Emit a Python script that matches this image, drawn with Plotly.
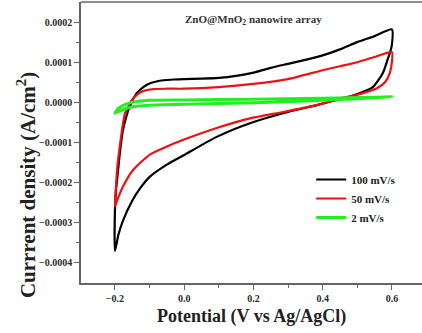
import plotly.graph_objects as go

# 100 mV/s loop (forward branch then reverse branch), current in 1e-4 A/cm^2
x_100 = [-0.2, -0.2, -0.197, -0.191, -0.185, -0.177, -0.167, -0.157, -0.137, -0.118, -0.1, -0.08, -0.06, -0.03, 0.0,
         0.05, 0.1, 0.15, 0.2, 0.25, 0.3, 0.35, 0.4, 0.45, 0.5, 0.55, 0.6,
         0.6, 0.595, 0.59, 0.574, 0.545, 0.508, 0.47, 0.45, 0.383, 0.286, 0.19, 0.094, -0.004, -0.05, -0.099,
         -0.128, -0.15, -0.177, -0.19, -0.2]
y_100 = [-3.7, -2.7, -2.2, -1.7, -1.2, -0.7, -0.35, -0.1, 0.23, 0.38, 0.47, 0.52, 0.55, 0.57, 0.58,
         0.59, 0.61, 0.66, 0.74, 0.86, 0.96, 1.06, 1.17, 1.32, 1.5, 1.65, 1.82,
         1.43, 1.25, 1.13, 0.73, 0.38, 0.23, 0.12, 0.08, -0.07, -0.27, -0.52, -0.86, -1.33, -1.55, -1.85,
         -2.15, -2.45, -2.95, -3.3, -3.7]

# 50 mV/s loop
x_50 = [-0.2, -0.197, -0.193, -0.186, -0.178, -0.171, -0.16, -0.151, -0.135, -0.119, -0.09, -0.05, 0.0,
        0.1, 0.2, 0.3, 0.4, 0.45, 0.5, 0.55, 0.6,
        0.6, 0.594, 0.58, 0.557, 0.517, 0.48, 0.45, 0.383, 0.286, 0.19, 0.094, -0.004, -0.05, -0.099, -0.148,
        -0.177, -0.194, -0.2]
y_50 = [-2.6, -2.1, -1.6, -1.1, -0.6, -0.27, -0.08, 0.06, 0.2, 0.28, 0.33, 0.34, 0.34,
        0.38, 0.46, 0.58, 0.8, 0.9, 1.0, 1.13, 1.25,
        1.0, 0.73, 0.5, 0.35, 0.23, 0.15, 0.1, -0.07, -0.24, -0.4, -0.64, -0.94, -1.1, -1.3, -1.69,
        -2.1, -2.45, -2.6]

# 2 mV/s loop
x_2 = [-0.2, -0.19, -0.17, -0.15, -0.1, 0.0, 0.2, 0.4, 0.5, 0.6,
       0.5, 0.4, 0.2, 0.0, -0.1, -0.15, -0.18, -0.2]
y_2 = [-0.27, -0.15, -0.05, 0.0, 0.05, 0.06, 0.08, 0.1, 0.12, 0.14,
       0.09, 0.05, -0.01, -0.05, -0.07, -0.11, -0.19, -0.27]

SCALE = 1e-4
series = [("100 mV/s", x_100, y_100, "#000000", 2.2),
          ("50 mV/s", x_50, y_50, "#ee1111", 2.2),
          ("2 mV/s", x_2, y_2, "#22ee22", 3)]

FONT = "Liberation Serif"
fig = go.Figure()
for name, xs, ys, col, w in series:
    fig.add_trace(go.Scatter(x=xs, y=[v * SCALE for v in ys], mode="lines", name=name,
                             line=dict(color=col, width=w, shape="spline", smoothing=0.6)))

axis_common = dict(showline=True, linecolor="#666666", linewidth=1.5, ticks="outside",
                   ticklen=5, tickwidth=1.2, tickcolor="#666666", showgrid=False, zeroline=False,
                   tickfont=dict(family=FONT, size=10, color="#2a2a2a", weight="bold"))
fig.update_xaxes(range=[-0.298, 0.687], tickvals=[-0.2, 0.0, 0.2, 0.4, 0.6], tickformat=".1f",
                 minor=dict(tickvals=[-0.1, 0.1, 0.3, 0.5], ticks="outside", ticklen=3,
                            tickcolor="#666666"), **axis_common)
fig.update_yaxes(range=[-0.00045, 0.00025],
                 tickvals=[-0.0004, -0.0003, -0.0002, -0.0001, 0.0, 0.0001, 0.0002], tickformat=".4f",
                 minor=dict(tickvals=[-0.00035, -0.00025, -0.00015, -0.00005, 0.00005, 0.00015],
                            ticks="outside", ticklen=3, tickcolor="#666666"), **axis_common)

fig.add_shape(type="line", xref="paper", yref="paper", x0=0, x1=1, y0=1, y1=1,
              line=dict(color="#666666", width=1.5))

fig.add_annotation(text="<b>ZnO@MnO<sub>2</sub> nanowire array</b>", xref="paper", yref="paper",
                   x=0.505, y=0.936, yanchor="middle", showarrow=False,
                   font=dict(family=FONT, size=11, color="#333333"))
fig.add_annotation(text="<b>Potential (V vs Ag/AgCl)</b>", xref="paper", yref="paper",
                   x=0.5, y=-0.075, yanchor="top", showarrow=False,
                   font=dict(family=FONT, size=18, color="#222222"))
fig.add_annotation(text="<b>Currrent density (A/cm<sup>2</sup>)</b>", xref="paper", yref="paper",
                   x=-0.16, y=0.35, xanchor="center", yanchor="middle", textangle=-90, showarrow=False,
                   font=dict(family=FONT, size=21, color="#222222"))

fig.update_layout(width=422, height=333, margin=dict(l=81, r=0, t=2, b=50),
                  plot_bgcolor="white", paper_bgcolor="white",
                  legend=dict(x=0.675, y=0.42, xanchor="left", yanchor="top", bgcolor="rgba(0,0,0,0)",
                              font=dict(family=FONT, size=11, color="#222222", weight="bold"),
                              tracegroupgap=0, itemwidth=30))

fig.write_html("out.html")
